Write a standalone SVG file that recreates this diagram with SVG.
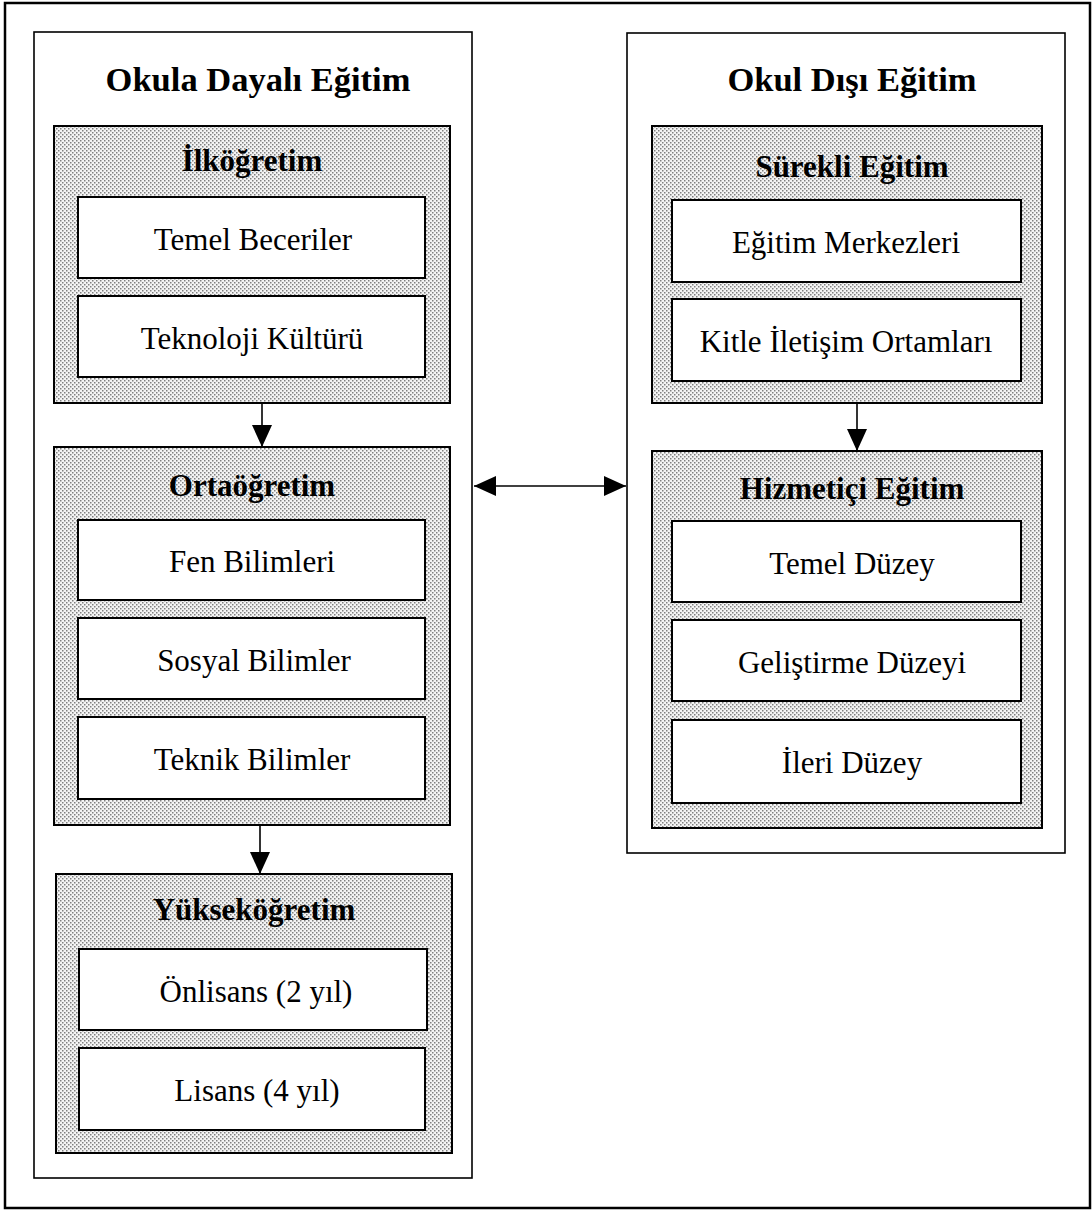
<svg xmlns="http://www.w3.org/2000/svg" width="1092" height="1210" viewBox="0 0 1092 1210">
<style>
.frame{fill:#fff;stroke:#000;stroke-width:2.5}
.col{fill:#fff;stroke:#000;stroke-width:1.6}
.shade{fill:url(#dots);stroke:#000;stroke-width:2}
.box{fill:#fff;stroke:#000;stroke-width:2}
.h1{font-family:"Liberation Serif","Times New Roman",serif;font-weight:bold;font-size:34.5px;text-anchor:middle;fill:#000}
.h2{font-family:"Liberation Serif","Times New Roman",serif;font-weight:bold;font-size:31px;text-anchor:middle;fill:#000}
.t{font-family:"Liberation Serif","Times New Roman",serif;font-size:31px;text-anchor:middle;fill:#000}
.conn{stroke:#000;stroke-width:1.6;fill:none}
</style>
<defs>
<pattern id="dots" width="4" height="4" patternUnits="userSpaceOnUse">
<rect width="4" height="4" fill="#f4f4f4"/>
<rect x="0" y="0" width="1.5" height="1.5" fill="#808080"/>
<rect x="2" y="2" width="1.5" height="1.5" fill="#808080"/>
</pattern>
<marker id="ah" viewBox="0 0 22 20" refX="22" refY="10" markerWidth="22" markerHeight="20" markerUnits="userSpaceOnUse" orient="auto-start-reverse">
<path d="M0,0 L22,10 L0,20 Z" fill="#000"/>
</marker>
</defs>
<rect class="frame" x="5" y="3" width="1085" height="1205"/>

<g id="okula-dayali">
<rect class="col" x="34" y="32" width="438" height="1146"/>
<text class="h1" x="258" y="91">Okula Dayalı Eğitim</text>
</g>
<g id="ilkogretim">
<rect class="shade" x="54" y="126" width="396" height="277"/>
<text class="h2" x="252" y="171">İlköğretim</text>
</g>
<g id="temel-beceriler">
<rect class="box" x="78" y="197" width="347" height="81"/>
<text class="t" x="253" y="250">Temel Beceriler</text>
</g>
<g id="teknoloji-kulturu">
<rect class="box" x="78" y="296" width="347" height="81"/>
<text class="t" x="252" y="349">Teknoloji Kültürü</text>
</g>
<g id="ortaogretim">
<rect class="shade" x="54" y="447" width="396" height="378"/>
<text class="h2" x="252" y="496">Ortaöğretim</text>
</g>
<g id="fen-bilimleri">
<rect class="box" x="78" y="520" width="347" height="80"/>
<text class="t" x="252" y="572">Fen Bilimleri</text>
</g>
<g id="sosyal-bilimler">
<rect class="box" x="78" y="618" width="347" height="81"/>
<text class="t" x="254" y="671">Sosyal Bilimler</text>
</g>
<g id="teknik-bilimler">
<rect class="box" x="78" y="717" width="347" height="82"/>
<text class="t" x="252" y="770">Teknik Bilimler</text>
</g>
<g id="yuksekogretim">
<rect class="shade" x="56" y="874" width="396" height="279"/>
<text class="h2" x="254" y="920">Yükseköğretim</text>
</g>
<g id="onlisans">
<rect class="box" x="79" y="949" width="348" height="81"/>
<text class="t" x="256" y="1002">Önlisans (2 yıl)</text>
</g>
<g id="lisans">
<rect class="box" x="79" y="1048" width="346" height="82"/>
<text class="t" x="257" y="1101">Lisans (4 yıl)</text>
</g>

<g id="okul-disi">
<rect class="col" x="627" y="33" width="438" height="820"/>
<text class="h1" x="852" y="91">Okul Dışı Eğitim</text>
</g>
<g id="surekli-egitim">
<rect class="shade" x="652" y="126" width="390" height="277"/>
<text class="h2" x="852" y="177">Sürekli Eğitim</text>
</g>
<g id="egitim-merkezleri">
<rect class="box" x="672" y="200" width="349" height="82"/>
<text class="t" x="846" y="253">Eğitim Merkezleri</text>
</g>
<g id="kitle-iletisim">
<rect class="box" x="672" y="299" width="349" height="82"/>
<text class="t" x="846" y="352">Kitle İletişim Ortamları</text>
</g>
<g id="hizmetici-egitim">
<rect class="shade" x="652" y="451" width="390" height="377"/>
<text class="h2" x="852" y="499">Hizmetiçi Eğitim</text>
</g>
<g id="temel-duzey">
<rect class="box" x="672" y="521" width="349" height="81"/>
<text class="t" x="852" y="574">Temel Düzey</text>
</g>
<g id="gelistirme-duzeyi">
<rect class="box" x="672" y="620" width="349" height="81"/>
<text class="t" x="852" y="673">Geliştirme Düzeyi</text>
</g>
<g id="ileri-duzey">
<rect class="box" x="672" y="720" width="349" height="83"/>
<text class="t" x="852" y="773">İleri Düzey</text>
</g>

<g id="connectors">
<line class="conn" x1="262" y1="403" x2="262" y2="447" marker-end="url(#ah)"/>
<line class="conn" x1="260" y1="825" x2="260" y2="874" marker-end="url(#ah)"/>
<line class="conn" x1="857" y1="403" x2="857" y2="451" marker-end="url(#ah)"/>
<line class="conn" x1="474" y1="486" x2="626" y2="486" marker-start="url(#ah)" marker-end="url(#ah)"/>
</g>
</svg>
